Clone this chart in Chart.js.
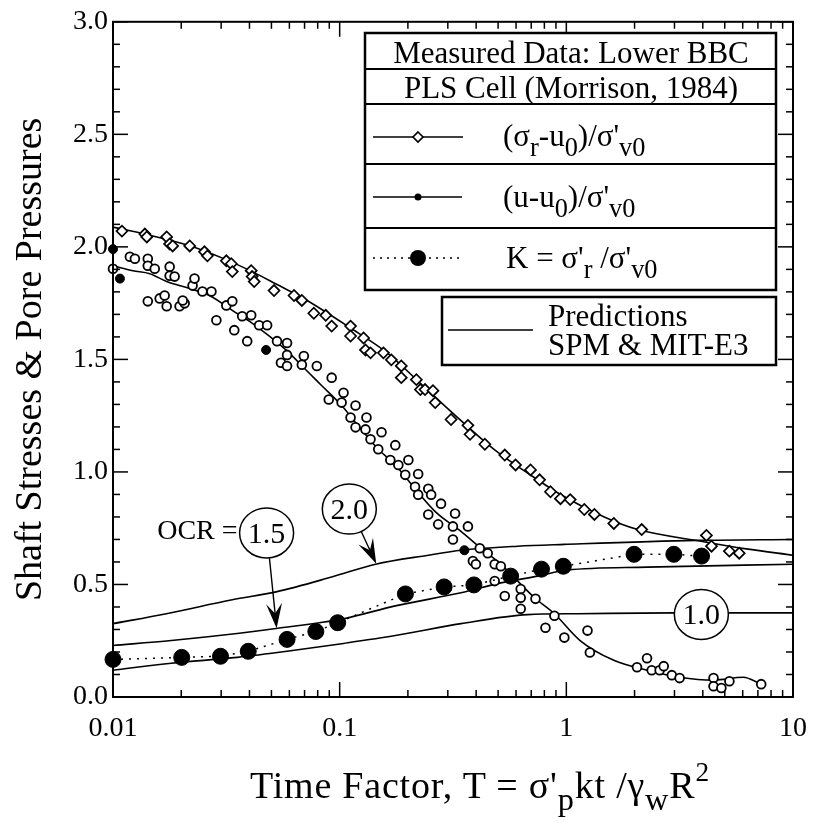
<!DOCTYPE html>
<html>
<head>
<meta charset="utf-8">
<title>Shaft Stresses &amp; Pore Pressures</title>
<script src="https://cdn.jsdelivr.net/npm/chart.js@4.4.1/dist/chart.umd.min.js"></script>
<style>
html,body{margin:0;padding:0;background:#fff;}
#wrap{position:relative;width:822px;height:824px;overflow:hidden;}
#c{position:absolute;left:0;top:0;}
.t{position:absolute;font-family:"Liberation Serif","Times New Roman",serif;color:#000;white-space:nowrap;line-height:1;z-index:2;}
.t sub{font-size:0.85em;vertical-align:-0.38em;line-height:0;}
.t sup{font-size:0.72em;vertical-align:0.62em;line-height:0;}
.lg{font-size:31px;transform:translateY(-50%);}
.lc{font-size:31px;transform:translate(-50%,-50%);}
</style>
</head>
<body>
<div id="wrap">
<canvas id="c" width="822" height="824"></canvas>
<div class="t lc" style="left:571px;top:52px;">Measured Data: Lower BBC</div>
<div class="t lc" style="left:571px;top:87px;">PLS Cell (Morrison, 1984)</div>
<div class="t lg" style="left:503px;top:135px;">(σ<sub>r</sub>-u<sub>0</sub>)/σ'<sub>v0</sub></div>
<div class="t lg" style="left:503px;top:196px;">(u-u<sub>0</sub>)/σ'<sub>v0</sub></div>
<div class="t lg" style="left:506px;top:257px;">K = σ'<sub>r</sub> /σ'<sub>v0</sub></div>
<div class="t lg" style="left:548px;top:315px;">Predictions</div>
<div class="t lg" style="left:548px;top:344px;">SPM &amp; MIT-E3</div>
<div class="t" style="left:250px;top:766px;font-size:38px;letter-spacing:0.8px;">Time Factor, T = σ'<sub>p</sub>kt /γ<sub>w</sub>R<sup>2</sup></div>
<div class="t" id="ocrText" style="font-size:28px;">OCR =</div>
<div class="t" id="ocr0" style="font-size:30px;">1.5</div>
<div class="t" id="ocr1" style="font-size:30px;">2.0</div>
<div class="t" id="ocr2" style="font-size:30px;">1.0</div>
</div>
<script>
// ---------- data ----------
const xTickVals = [0.01, 0.1, 1, 10];
const xTickLabels = ['0.01', '0.1', '1', '10'];
const yTickVals = [0, 0.5, 1, 1.5, 2, 2.5, 3];
const yTickLabels = ['0.0', '0.5', '1.0', '1.5', '2.0', '2.5', '3.0'];

// (σr-u0)/σ'v0 measured (open diamonds)
const diaX = [0.01095,0.01382,0.01410,0.01725,0.01778,0.01833,0.0218,0.02532,0.02610,0.03162,0.03325,0.0336,0.04071,0.0411,0.04197,0.05134,0.0629,0.0681,0.0769,0.0868,0.0922,0.1117,0.1117,0.1275,0.130,0.1368,0.156,0.169,0.187,0.187,0.218,0.227,0.238,0.258,0.264,0.310,0.368,0.376,0.437,0.535,0.597,0.695,0.762,0.851,0.942,1.04,1.20,1.33,1.62,2.15,4.15,4.37,5.24,5.79];
const diaY = [2.070,2.057,2.044,2.044,2.013,2.004,2.004,1.978,1.960,1.938,1.925,1.890,1.894,1.868,1.846,1.806,1.784,1.762,1.705,1.696,1.648,1.648,1.604,1.595,1.542,1.529,1.529,1.498,1.471,1.419,1.410,1.366,1.366,1.361,1.308,1.233,1.207,1.167,1.123,1.075,1.031,1.009,0.965,0.912,0.881,0.877,0.833,0.811,0.771,0.744,0.718,0.670,0.648,0.639];

// (u-u0)/σ'v0 measured (open circles)
const poreX = [0.01,0.01187,0.01249,0.01424,0.01424,0.01528,0.01424,0.01607,0.0169,0.01725,0.01778,0.01778,0.0187,0.01967,0.0207,0.0203,0.02244,0.02289,0.02481,0.02718,0.02858,0.03162,0.0336,0.03428,0.03715,0.04071,0.03909,0.04411,0.04786,0.05292,0.0586,0.0586,0.05508,0.0586,0.0695,0.0681,0.0793,
  0.0922,0.104,0.0895,0.102,0.1175,0.1117,0.1313,0.1175,0.130,0.1368,0.153,0.148,0.176,0.1673,0.1815,0.201,0.1947,0.222,0.215,0.246,0.2533,0.222,
  0.280,0.323,0.246,0.272,0.316,0.368,0.316,0.415,0.450,0.387,0.399,0.483,0.514,0.483,0.535,0.629,0.629,0.629,0.731,0.886,0.809,0.980,
  1.24,1.27,2.05,2.27,2.38,2.58,2.69,2.92,3.16,4.46,4.46,4.83,5.24,7.24];
const poreY = [1.903,1.956,1.947,1.947,1.916,1.903,1.758,1.771,1.784,1.736,1.912,1.872,1.868,1.736,1.749,1.762,1.828,1.859,1.802,1.802,1.674,1.740,1.758,1.630,1.692,1.696,1.581,1.652,1.652,1.581,1.573,1.520,1.485,1.471,1.515,1.476,1.471,
  1.419,1.352,1.322,1.308,1.295,1.242,1.242,1.198,1.189,1.145,1.176,1.101,1.119,1.053,1.031,1.053,0.987,0.991,0.934,0.925,0.899,0.899,
  0.859,0.815,0.811,0.767,0.758,0.758,0.700,0.661,0.639,0.604,0.590,0.590,0.581,0.515,0.449,0.480,0.441,0.392,0.436,0.361,0.308,0.264,
  0.295,0.198,0.132,0.172,0.119,0.119,0.137,0.097,0.084,0.084,0.048,0.040,0.070,0.057];
// a few markers that print solid in the scan
const solidX = [0.01, 0.01073, 0.04736, 0.355];
const solidY = [1.99, 1.859, 1.542, 0.652];

// K = σ'r/σ'v0 measured (large solid circles)
const kX = [0.01,0.0201,0.0298,0.0395,0.0586,0.0785,0.098,0.195,0.289,0.391,0.568,0.777,0.970,1.99,2.98,3.95];
const kY = [0.167,0.176,0.181,0.203,0.256,0.291,0.330,0.458,0.489,0.498,0.537,0.568,0.581,0.634,0.634,0.626];

// Predictions SPM & MIT-E3
const predTotalX = [0.01,0.0141,0.0218,0.0304,0.0411,0.0524,0.0709,0.1094,0.164,0.229,0.272,0.343,0.483,0.675,0.942,1.47,2.05,4.03,6.22,10];
const predTotalY = [2.088,2.055,2.005,1.950,1.890,1.835,1.765,1.645,1.525,1.390,1.320,1.228,1.098,0.995,0.900,0.800,0.745,0.690,0.658,0.630];
const predPoreX = [0.01,0.01224,0.01453,0.01725,0.0218,0.02664,0.0336,0.0399,0.0488,0.0598,0.0709,0.0834,0.102,0.1175,0.148,0.176,0.215,0.264,0.343,0.420,0.514,0.591,0.724,0.886,1.15,1.62,2.27,3.16,4.46,6.04,7.10];
const predPoreY = [1.916,1.894,1.881,1.846,1.815,1.784,1.718,1.670,1.604,1.529,1.454,1.383,1.295,1.220,1.101,1.031,0.925,0.824,0.736,0.661,0.590,0.529,0.441,0.370,0.251,0.163,0.119,0.088,0.075,0.088,0.062];
const ocr20X = [0.01,0.0172,0.0336,0.0524,0.0922,0.144,0.246,0.343,0.610,0.980,3.76,10];
const ocr20Y = [0.326,0.370,0.432,0.467,0.533,0.590,0.630,0.652,0.670,0.678,0.696,0.700];
const ocr15X = [0.01,0.0181,0.0353,0.0524,0.104,0.176,0.343,0.514,0.746,1.01,2.27,10];
const ocr15Y = [0.229,0.251,0.282,0.304,0.348,0.405,0.463,0.507,0.537,0.564,0.577,0.590];
const ocr10X = [0.01,0.0181,0.0353,0.0586,0.104,0.176,0.343,0.675,1.12,2.98,10];
const ocr10Y = [0.119,0.150,0.176,0.203,0.238,0.273,0.326,0.366,0.370,0.374,0.374];

// OCR annotation anchors (data coordinates)
const ocrLabels = ['1.5', '2.0', '1.0'];
const ocrAt = [
  {x: 0.0476, y: 0.729, tipX: 0.0527, tipY: 0.305},
  {x: 0.1103, y: 0.835, tipX: 0.145, tipY: 0.592},
  {x: 3.942, y: 0.367}
];

// ---------- chart ----------
const pts = (xs, ys) => xs.map((x, i) => ({x: x, y: ys[i]}));
const FONT = '"Liberation Serif","Times New Roman",serif';

const predLine = (xs, ys) => ({
  data: pts(xs, ys), showLine: true, pointRadius: 0, borderColor: '#000',
  borderWidth: 1.6, cubicInterpolationMode: 'monotone', order: 5, fill: false
});

const datasets = [
  Object.assign(predLine(predTotalX, predTotalY), {label: 'Prediction (σr-u0)/σ\'v0'}),
  Object.assign(predLine(predPoreX, predPoreY), {label: 'Prediction (u-u0)/σ\'v0'}),
  Object.assign(predLine(ocr20X, ocr20Y), {label: 'Prediction K, OCR 2.0'}),
  Object.assign(predLine(ocr15X, ocr15Y), {label: 'Prediction K, OCR 1.5'}),
  Object.assign(predLine(ocr10X, ocr10Y), {label: 'Prediction K, OCR 1.0'}),
  {label: "(σr-u0)/σ'v0", data: pts(diaX, diaY), pointStyle: 'rectRot', pointRadius: 5.5,
   pointBackgroundColor: '#fff', pointBorderColor: '#000', pointBorderWidth: 1.7, showLine: false, order: 2, clip: false},
  {label: "(u-u0)/σ'v0", data: pts(poreX, poreY), pointStyle: 'circle', pointRadius: 4.4,
   pointBackgroundColor: '#fff', pointBorderColor: '#000', pointBorderWidth: 1.8, showLine: false, order: 2, clip: false},
  {label: "(u-u0)/σ'v0 solid", data: pts(solidX, solidY), pointStyle: 'circle', pointRadius: 4.5,
   pointBackgroundColor: '#000', pointBorderColor: '#000', pointBorderWidth: 1, showLine: false, order: 2, clip: false},
  {label: "K = σ'r/σ'v0", data: pts(kX, kY), pointStyle: 'circle', pointRadius: 8,
   pointBackgroundColor: '#000', pointBorderColor: '#000', pointBorderWidth: 1,
   showLine: true, borderColor: '#000', borderWidth: 1.5, borderDash: [2, 6], tension: 0, order: 1, clip: false}
];

function arrow(ctx, x0, y0, x1, y1, len, wid) {
  const a = Math.atan2(y1 - y0, x1 - x0), c = Math.cos(a), s = Math.sin(a);
  const bx = x1 - c * len, by = y1 - s * len;
  ctx.beginPath(); ctx.moveTo(x0, y0); ctx.lineTo(x1 - c * len * 0.5, y1 - s * len * 0.5); ctx.stroke();
  ctx.beginPath();
  ctx.moveTo(x1, y1);
  ctx.lineTo(bx - s * wid / 2, by + c * wid / 2);
  ctx.lineTo(x1 - c * len * 0.6, y1 - s * len * 0.6);
  ctx.lineTo(bx + s * wid / 2, by - c * wid / 2);
  ctx.closePath(); ctx.fill();
}
function seg(ctx, x0, y0, x1, y1) { ctx.beginPath(); ctx.moveTo(x0, y0); ctx.lineTo(x1, y1); ctx.stroke(); }

const decor = {
  id: 'decor',
  afterDraw(chart) {
    const ctx = chart.ctx, a = chart.chartArea, x = chart.scales.x, y = chart.scales.y;
    ctx.save();
    ctx.strokeStyle = '#000'; ctx.fillStyle = '#000'; ctx.lineCap = 'butt';
    // inward ticks, all four sides
    ctx.lineWidth = 1.5;
    for (let i = 0; i <= 30; i++) {
      const py = y.getPixelForValue(i / 10), len = (i % 5 === 0) ? 15 : 7;
      seg(ctx, a.left, py, a.left + len, py); seg(ctx, a.right, py, a.right - len, py);
    }
    for (let d = -2; d <= 1; d++) {
      for (let m = 1; m <= 9; m++) {
        const v = m * Math.pow(10, d);
        if (v > 10.0001) break;
        const px = x.getPixelForValue(v), len = (m === 1) ? 15 : 7;
        seg(ctx, px, a.bottom, px, a.bottom - len); seg(ctx, px, a.top, px, a.top + len);
      }
    }
    ctx.lineWidth = 2;
    ctx.strokeRect(a.left, a.top, a.right - a.left, a.bottom - a.top);

    // OCR annotations
    const rx = 27, ry = 25;
    ocrAt.forEach((o, i) => {
      const cx = x.getPixelForValue(o.x), cy = y.getPixelForValue(o.y);
      if (o.tipX !== undefined) {
        const tx = x.getPixelForValue(o.tipX), ty = y.getPixelForValue(o.tipY);
        const ang = Math.atan2(ty - cy, tx - cx);
        ctx.lineWidth = 1.4;
        arrow(ctx, cx + rx * Math.cos(ang), cy + ry * Math.sin(ang), tx, ty, 25, 16);
      }
      ctx.beginPath(); ctx.ellipse(cx, cy, rx, ry, 0, 0, Math.PI * 2);
      ctx.fillStyle = '#fff'; ctx.fill(); ctx.fillStyle = '#000';
      ctx.lineWidth = 1.5; ctx.stroke();
      const el = document.getElementById('ocr' + i);
      el.textContent = ocrLabels[i];
      el.style.left = cx + 'px'; el.style.top = cy + 'px';
      el.style.transform = 'translate(-50%,-50%)';
      if (i === 0) {
        const t = document.getElementById('ocrText');
        t.style.left = (cx - rx - 2) + 'px'; t.style.top = (cy - 3) + 'px';
        t.style.transform = 'translate(-100%,-50%)';
      }
    });

    // legend boxes
    ctx.fillStyle = '#fff';
    ctx.fillRect(365, 33, 411, 257); ctx.fillRect(442, 297, 334, 68);
    ctx.fillStyle = '#000';
    ctx.lineWidth = 2.5;
    ctx.strokeRect(365, 33, 411, 257);
    ctx.strokeRect(442, 297, 334, 68);
    ctx.lineWidth = 2;
    [69, 104, 164, 228].forEach(v => seg(ctx, 365, v, 776, v));
    ctx.lineWidth = 1.5;
    seg(ctx, 373, 137, 463, 137);
    seg(ctx, 373, 197, 462, 197);
    seg(ctx, 448, 330, 533, 330);
    ctx.setLineDash([2, 5]); seg(ctx, 373, 258, 460, 258); ctx.setLineDash([]);
    // legend markers
    ctx.beginPath(); ctx.moveTo(418, 132); ctx.lineTo(423, 137); ctx.lineTo(418, 142); ctx.lineTo(413, 137); ctx.closePath();
    ctx.fillStyle = '#fff'; ctx.fill(); ctx.fillStyle = '#000'; ctx.lineWidth = 1.6; ctx.stroke();
    ctx.beginPath(); ctx.arc(418, 197, 3.5, 0, Math.PI * 2); ctx.fill();
    ctx.beginPath(); ctx.arc(418, 258, 8, 0, Math.PI * 2); ctx.fill();
    ctx.restore();
  }
};

new Chart(document.getElementById('c'), {
  type: 'scatter',
  data: {datasets: datasets},
  plugins: [decor],
  options: {
    responsive: false, animation: false, devicePixelRatio: 1,
    layout: {padding: {left: 0, right: 27, top: 18, bottom: 0}},
    plugins: {legend: {display: false}, tooltip: {enabled: false}},
    scales: {
      x: {
        type: 'logarithmic', min: 0.01, max: 10,
        grid: {display: false, drawTicks: false}, border: {display: false},
        afterBuildTicks: s => { s.ticks = xTickVals.map(v => ({value: v})); },
        afterFit: s => { s.height = 127; },
        ticks: {autoSkip: false, maxRotation: 0, padding: 15, color: '#000',
          font: {family: FONT, size: 28},
          callback: (v, i) => xTickLabels[i]}
      },
      y: {
        type: 'linear', min: 0, max: 3,
        grid: {display: false, drawTicks: false}, border: {display: false},
        afterBuildTicks: s => { s.ticks = yTickVals.map(v => ({value: v})); },
        afterFit: s => { s.width = 113; },
        ticks: {autoSkip: false, padding: 5, color: '#000',
          font: {family: FONT, size: 28},
          callback: (v, i) => yTickLabels[i]},
        title: {display: true, text: 'Shaft Stresses & Pore Pressures', color: '#000',
          font: {family: FONT, size: 38}, padding: {top: 8, bottom: 0}}
      }
    }
  }
});
</script>
</body>
</html>
